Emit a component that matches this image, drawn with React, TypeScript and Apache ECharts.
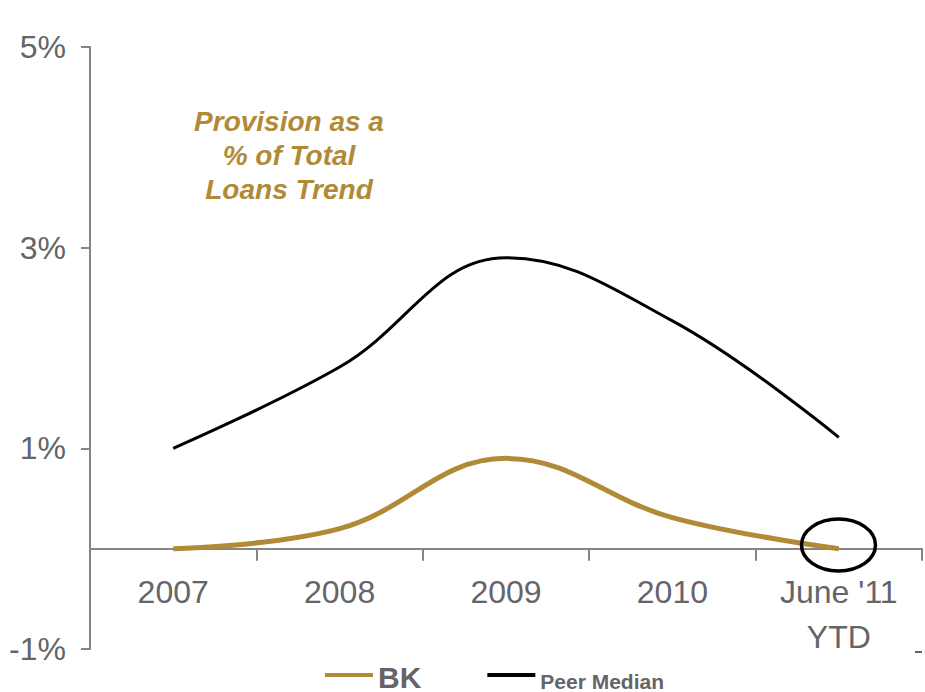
import React, { useEffect, useRef } from "react";
import * as echarts from "echarts";

const categories = ["2007", "2008", "2009", "2010", "June '11\nYTD"];
const bkValues = [0.0, 0.2, 0.9, 0.31, 0.0];
const peerValues = [1.0, 1.81, 2.9, 2.27, 1.11];
const yTicks = [-1, 1, 3, 5];

const GOLD = "#B08A36";
const GRAY_TEXT = "#646469";
const AXIS_GRAY = "#858585";
const SANS = '"Liberation Sans", Arial, sans-serif';

export default function App() {
  const ref = useRef<HTMLDivElement>(null);
  useEffect(() => {
    if (!ref.current) return;
    const chart = echarts.init(ref.current, null, { renderer: "svg" });
    chart.setOption({
      animation: false,
      backgroundColor: "#ffffff",
      grid: { left: 90, right: 3, top: 47, bottom: 43, containLabel: false, outerBoundsMode: "none" },
      xAxis: {
        type: "category",
        data: categories,
        boundaryGap: true,
        axisLine: { onZero: true, lineStyle: { color: AXIS_GRAY, width: 2 } },
        axisTick: { show: true, alignWithLabel: false, length: 12, lineStyle: { color: AXIS_GRAY, width: 2 } },
        axisLabel: {
          color: GRAY_TEXT,
          fontFamily: SANS,
          fontSize: 32,
          lineHeight: 45,
          margin: -80,
          interval: 0,
          hideOverlap: false,
        },
        splitLine: { show: false },
      },
      yAxis: {
        type: "value",
        min: yTicks[0],
        max: yTicks[yTicks.length - 1],
        interval: 2,
        axisLine: { show: true, lineStyle: { color: AXIS_GRAY, width: 2 } },
        axisTick: { show: true, inside: false, length: 9, lineStyle: { color: AXIS_GRAY, width: 2 } },
        axisLabel: {
          color: GRAY_TEXT,
          fontFamily: SANS,
          fontSize: 32,
          margin: 24,
          formatter: (v: number) => `${v}%`,
        },
        splitLine: { show: false },
      },
      legend: {
        left: 325,
        top: 662,
        itemWidth: 48,
        itemHeight: 4,
        itemGap: 66,
        icon: "rect",
        padding: 0,
        formatter: (name: string) => (name === "BK" ? `{b|${name}}` : `{p|${name}}`),
        textStyle: {
          rich: {
            b: { color: GRAY_TEXT, fontFamily: SANS, fontWeight: "bold", fontSize: 30, padding: [4, 0, 0, 0] },
            p: { color: GRAY_TEXT, fontFamily: SANS, fontWeight: "bold", fontSize: 21, padding: [12, 0, 0, 0] },
          },
        },
        data: ["BK", "Peer Median"],
      },
      series: [
        {
          name: "BK",
          type: "line",
          data: bkValues,
          smooth: 0.4,
          symbol: "none",
          lineStyle: { color: GOLD, width: 5 },
          itemStyle: { color: GOLD },
          z: 3,
        },
        {
          name: "Peer Median",
          type: "line",
          data: peerValues,
          smooth: 0.4,
          symbol: "none",
          lineStyle: { color: "#000000", width: 3 },
          itemStyle: { color: "#000000" },
          z: 2,
        },
      ],
      graphic: [
        {
          type: "text",
          x: 289,
          y: 104,
          style: {
            text: "Provision as a\n% of Total\nLoans Trend",
            textAlign: "center",
            textVerticalAlign: "top",
            fill: GOLD,
            fontFamily: SANS,
            fontStyle: "italic",
            fontWeight: "bold",
            fontSize: 28,
            lineHeight: 34,
          },
        },
        {
          type: "ellipse",
          shape: { cx: 838.5, cy: 545, rx: 37, ry: 26 },
          style: { fill: "none", stroke: "#000000", lineWidth: 3.5 },
          z: 10,
        },
        {
          type: "line",
          shape: { x1: 915, y1: 652, x2: 922, y2: 652 },
          style: { stroke: GRAY_TEXT, lineWidth: 2 },
        },
      ],
    });
    return () => chart.dispose();
  }, []);
  return (
    <div
      ref={ref}
      style={{ position: "fixed", left: 0, top: 0, width: 925, height: 692, background: "#fff" }}
    />
  );
}
